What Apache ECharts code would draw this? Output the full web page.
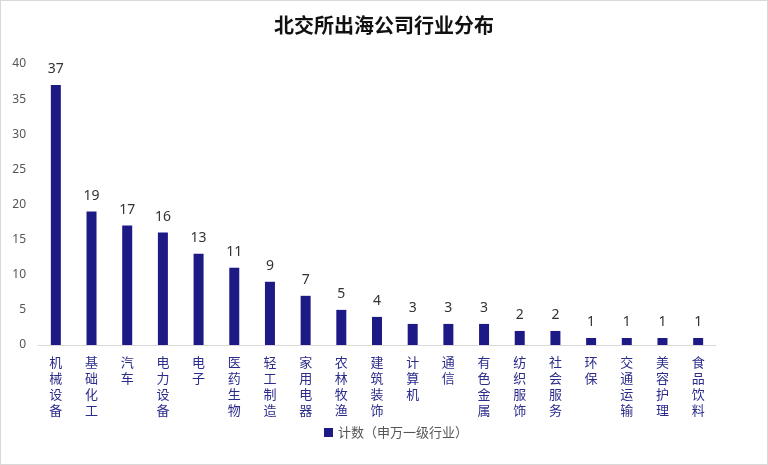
<!DOCTYPE html>
<html>
<head>
<meta charset="utf-8">
<script src="https://cdn.jsdelivr.net/npm/echarts@6/dist/echarts.min.js"></script>
<style>
    html, body { margin: 0; padding: 0; background: #fff; }
    #bar { width: 766px; height: 463px; border: 1px solid #d9d9d9; }
</style>
</head>
<body>
<div id="bar"></div>
<script>
// 数据
const industries = ['机械设备', '基础化工', '汽车', '电力设备', '电子', '医药生物', '轻工制造', '家用电器', '农林牧渔',
    '建筑装饰', '计算机', '通信', '有色金属', '纺织服饰', '社会服务', '环保', '交通运输', '美容护理', '食品饮料'];
const counts = [37, 19, 17, 16, 13, 11, 9, 7, 5, 4, 3, 3, 3, 2, 2, 1, 1, 1, 1];
const yTicks = [0, 5, 10, 15, 20, 25, 30, 35, 40];

document.addEventListener('DOMContentLoaded', function () {
    const barChartDom = document.getElementById('bar');
    const industryChart = echarts.init(barChartDom);
    const option = {
        animation: false,
        title: {
            text: '北交所出海公司行业分布',
            left: 'center',
            top: 9,
            textStyle: {
                fontFamily: 'Noto Sans CJK SC',
                fontSize: 20,
                fontWeight: 'bold',
                color: '#111'
            }
        },
        legend: {
            data: ['计数（申万一级行业）'],
            left: 318,
            top: 420,
            itemWidth: 9,
            itemHeight: 9,
            icon: 'rect',
            textStyle: {
                fontFamily: 'Noto Sans CJK SC',
                fontSize: 13,
                color: '#555'
            }
        },
        grid: {
            left: 37,
            right: 51,
            top: 63,
            bottom: 119
        },
        xAxis: {
            type: 'category',
            data: industries,
            axisLine: { lineStyle: { color: '#d9d9d9' } },
            axisTick: { show: false },
            axisLabel: {
                interval: 0,
                margin: 9,
                fontFamily: 'Noto Sans CJK SC',
                fontSize: 13,
                lineHeight: 16,
                color: '#2b2b8c',
                formatter: function (value) {
                    return value.split('').join('\n');
                }
            }
        },
        yAxis: {
            type: 'value',
            min: yTicks[0],
            max: yTicks[yTicks.length - 1],
            interval: 5,
            splitLine: { show: false },
            axisLine: { show: false },
            axisTick: { show: false },
            axisLabel: {
                margin: 12,
                fontFamily: 'Noto Sans',
                fontSize: 12,
                color: '#555'
            }
        },
        series: [
            {
                name: '计数（申万一级行业）',
                type: 'bar',
                data: counts,
                barWidth: 10,
                itemStyle: { color: '#1d1a86' },
                label: {
                    show: true,
                    position: 'top',
                    distance: 9,
                    fontFamily: 'Noto Sans',
                    fontSize: 14,
                    color: '#333'
                }
            }
        ]
    };
    industryChart.setOption(option);
});
</script>
</body>
</html>
